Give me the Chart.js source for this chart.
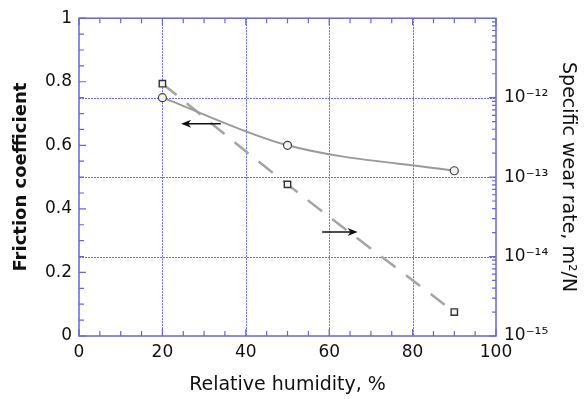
<!DOCTYPE html>
<html>
<head>
<meta charset="utf-8">
<script src="https://cdn.jsdelivr.net/npm/chart.js@4/dist/chart.umd.min.js"></script>
<style>
  html, body { margin: 0; padding: 0; background: #fff; }
  #wrap { width: 588px; height: 399px; }
</style>
</head>
<body>
<div id="wrap"><canvas id="chart"></canvas></div>
<script>
// Data
const humidity = [20, 50, 90];
const friction = [0.75, 0.60, 0.52];
const wearRate = [1.5e-12, 8.1e-14, 2.0e-15];
const decades = [1e-15, 1e-14, 1e-13, 1e-12, 1e-11];
const decadeLabels = ['10⁻¹⁵', '10⁻¹⁴', '10⁻¹³', '10⁻¹²', ''];
const xGrid = [20, 40, 60, 80];

// arrows pointing to each curve's axis (data coordinates)
const arrowLeft = { x0: 34, x1: 24.5, y: 0.668 };
const arrowRight = { x0: 58.3, x1: 66.8, y: 0.327 };

const axisBlue = '#6767cf';
const gridBlue = '#6a6af0';
const fontFam = '"DejaVu Sans", "Noto Sans", sans-serif';

// dotted grid (under the data)
const gridPlugin = {
  id: 'dotgrid',
  beforeDatasetsDraw(chart) {
    const { ctx, chartArea: a, scales } = chart;
    ctx.save();
    ctx.strokeStyle = gridBlue;
    ctx.lineWidth = 1;
    ctx.setLineDash([2, 1]);
    ctx.beginPath();
    xGrid.forEach(v => {
      const px = Math.round(scales.x.getPixelForValue(v)) + 0.5;
      ctx.moveTo(px, a.top); ctx.lineTo(px, a.bottom);
    });
    ctx.stroke();
    ctx.beginPath();
    decades.slice(1, -1).forEach(v => {
      const py = Math.round(scales.y2.getPixelForValue(v)) + 0.5;
      ctx.moveTo(a.left, py); ctx.lineTo(a.right, py);
    });
    ctx.stroke();
    ctx.restore();
  }
};

// inward tick marks, box frame and arrows
const decorPlugin = {
  id: 'decor',
  afterDraw(chart) {
    const { ctx, chartArea: a, scales } = chart;
    const x = scales.x, y = scales.y, y2 = scales.y2;
    ctx.save();
    ctx.strokeStyle = axisBlue;
    ctx.lineWidth = 1.5;
    ctx.strokeRect(a.left, a.top, a.right - a.left, a.bottom - a.top);
    ctx.lineWidth = 1.2;
    ctx.beginPath();
    for (let v = 0; v <= 100; v += 5) {
      const px = x.getPixelForValue(v);
      const len = v % 20 === 0 ? 7 : 5;
      ctx.moveTo(px, a.bottom); ctx.lineTo(px, a.bottom - len);
      ctx.moveTo(px, a.top); ctx.lineTo(px, a.top + len);
    }
    for (let i = 0; i <= 20; i++) {
      const py = y.getPixelForValue(i * 0.05);
      const len = i % 4 === 0 ? 7 : 5;
      ctx.moveTo(a.left, py); ctx.lineTo(a.left + len, py);
    }
    for (let d = -15; d < -11; d++) {
      for (let m = 1; m <= 9; m++) {
        const py = y2.getPixelForValue(m * Math.pow(10, d));
        const len = m === 1 ? 7 : 4;
        ctx.moveTo(a.right, py); ctx.lineTo(a.right - len, py);
      }
    }
    ctx.stroke();

    // arrows
    ctx.strokeStyle = '#111';
    ctx.fillStyle = '#111';
    ctx.lineWidth = 1.5;
    [arrowLeft, arrowRight].forEach(ar => {
      const xa = x.getPixelForValue(ar.x0), xb = x.getPixelForValue(ar.x1);
      const py = y.getPixelForValue(ar.y);
      const dir = Math.sign(xb - xa);
      ctx.beginPath();
      ctx.moveTo(xa, py); ctx.lineTo(xb - dir * 2, py);
      ctx.stroke();
      ctx.beginPath();
      ctx.moveTo(xb, py);
      ctx.lineTo(xb - dir * 10, py - 4);
      ctx.lineTo(xb - dir * 7, py);
      ctx.lineTo(xb - dir * 10, py + 4);
      ctx.closePath();
      ctx.fill();
    });
    ctx.restore();
  }
};

const ctx = document.getElementById('chart').getContext('2d');
const chart = new Chart(ctx, {
  type: 'line',
  data: {
    labels: humidity,
    datasets: [
      {
        label: 'Friction coefficient',
        data: humidity.map((h, i) => ({ x: h, y: friction[i] })),
        yAxisID: 'y',
        borderColor: '#9a9a9a',
        borderWidth: 2,
        cubicInterpolationMode: 'monotone',
        pointStyle: 'circle',
        pointRadius: 4,
        pointBackgroundColor: '#f2f2f2',
        pointBorderColor: '#444',
        pointBorderWidth: 1.2
      },
      {
        label: 'Specific wear rate',
        data: humidity.map((h, i) => ({ x: h, y: wearRate[i] })),
        yAxisID: 'y2',
        borderColor: '#a5a5a5',
        borderWidth: 2.5,
        borderDash: [18, 13],
        tension: 0.4,
        pointStyle: 'rect',
        pointRadius: 4.5,
        pointBackgroundColor: '#f2f2f2',
        pointBorderColor: '#333',
        pointBorderWidth: 1.4
      }
    ]
  },
  options: {
    responsive: true,
    maintainAspectRatio: false,
    animation: false,
    layout: { padding: { top: 14, left: 0, right: 0, bottom: 0 } },
    plugins: {
      legend: { display: false },
      tooltip: { enabled: false }
    },
    scales: {
      x: {
        type: 'linear',
        min: 0, max: 100,
        ticks: { stepSize: 20, color: '#111', padding: 6, font: { family: fontFam, size: 17 } },
        grid: { display: false, drawTicks: false },
        border: { display: false },
        title: { display: true, text: 'Relative humidity, %', color: '#111', padding: { top: 2, bottom: 3 }, font: { family: fontFam, size: 19 } },
        afterFit: s => { s.height = 63; }
      },
      y: {
        type: 'linear',
        position: 'left',
        min: 0, max: 1,
        ticks: { stepSize: 0.2, color: '#111', padding: 7, font: { family: fontFam, size: 17 },
          callback: v => Number(v.toFixed(1)).toString() },
        grid: { display: false, drawTicks: false },
        border: { display: false },
        title: { display: true, text: 'Friction coefficient', color: '#111', padding: { top: 11, bottom: 0 }, font: { family: fontFam, size: 18, weight: 'bold' } },
        afterFit: s => { s.width = 79; }
      },
      y2: {
        type: 'logarithmic',
        position: 'right',
        min: 1e-15, max: 1e-11,
        afterBuildTicks: s => { s.ticks = decades.map(v => ({ value: v })); },
        ticks: { color: '#111', padding: 8, font: { family: fontFam, size: 17 },
          callback: (v) => decadeLabels[decades.findIndex(d => Math.abs(Math.log10(d) - Math.log10(v)) < 1e-6)] },
        grid: { display: false, drawTicks: false },
        border: { display: false },
        title: { display: true, text: 'Specific wear rate, m²/N', color: '#111', padding: { top: 9, bottom: 0 }, font: { family: fontFam, size: 19 } },
        afterFit: s => { s.width = 92; }
      }
    }
  },
  plugins: [gridPlugin, decorPlugin]
});
</script>
</body>
</html>
